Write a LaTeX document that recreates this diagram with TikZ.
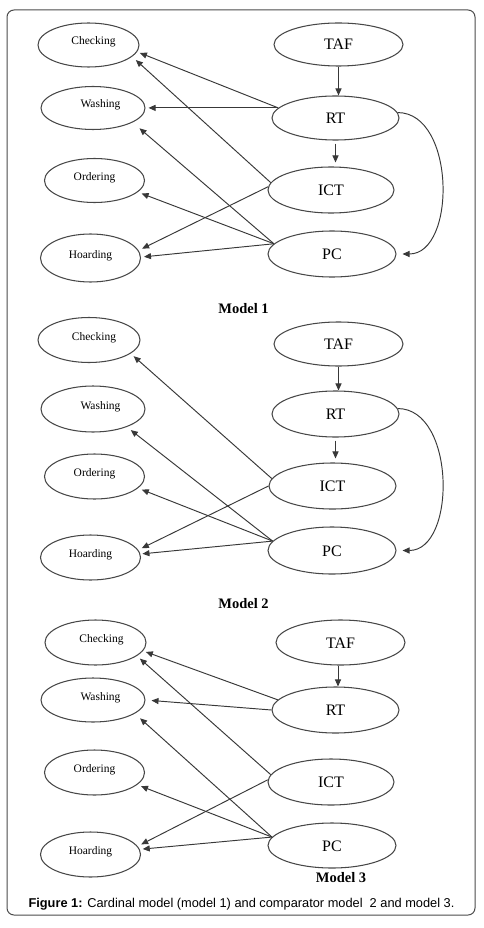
\documentclass[tikz,border=0pt]{standalone}
\usepackage{fontspec}
\setmainfont{Liberation Serif}
\newfontfamily\capfont{Liberation Sans}
\usetikzlibrary{arrows.meta,shapes.geometric}
\begin{document}
\begin{tikzpicture}[x=1pt,y=-1pt,
  ell/.style={ellipse, draw=black!72, line width=1.05pt, inner sep=0pt},
  small/.style={ell, font=\fontsize{11.5}{12}\selectfont, text height=8pt, text depth=8pt},
  big/.style={ell, font=\fontsize{16}{18}\selectfont, text height=11pt, text depth=0pt},
  arr/.style={draw=black!78, line width=0.95pt, -{Triangle[length=7pt,width=6pt]}, shorten >=3pt},
  mlabel/.style={font=\bfseries\fontsize{14.5}{16}\selectfont, inner sep=0pt},
  sz/.style 2 args={minimum width=#1pt, minimum height=#2pt}
]
\useasboundingbox (0,0) rectangle (483,928);
\fill[white] (0,0) rectangle (483,928);
\draw[rounded corners=7pt, black!70, line width=1pt] (7,10) rectangle (475,915);

% ---------------- Model 1
\node[small, sz={101}{44}] (C1) at (88.5,45) {\hspace*{10pt}Checking};
\node[small, sz={104}{43}] (W1) at (93,108) {\hspace*{15pt}Washing};
\node[small, sz={100}{44}] (O1) at (94.5,180.5) {Ordering};
\node[small, sz={100}{48}] (H1) at (90.5,258) {Hoarding};
\node[big, sz={129}{43}] (T1) at (338.5,44.5) {TAF};
\node[big, sz={127}{44}] (R1) at (335.5,118) {RT};
\node[big, sz={126}{46}] (I1) at (331,190) {ICT};
\node[big, sz={128}{46}] (P1) at (332,254) {PC};
\node[mlabel] (M1) at (243.5,308.5) {Model 1};

\draw[arr, shorten >=0pt] (T1.south) -- (T1.south |- R1.north);
\draw[arr, shorten <=3pt, shorten >=4pt] (R1.south) -- (R1.south |- I1.north);
\draw[arr, shorten >=6pt] (R1.5) .. controls +(58,0) and +(60,0) .. (P1.east);
\draw[arr] (R1.170) -- (C1.-8);
\draw[arr] (R1.170) -- (R1.170 -| W1.east);
\draw[arr, shorten >=5pt] (I1.173) -- (C1.-15);
\draw[arr, shorten >=4pt] (I1.177) -- (H1.9);
\draw[arr, shorten >=9pt] (P1.170) -- (W1.-20);
\draw[arr, shorten >=4pt] (P1.170) -- (O1.-15);
\draw[arr] (P1.170) -- (H1.1);

% ---------------- Model 2
\node[small, sz={102}{45}] (C2) at (89,340) {\hspace*{10pt}Checking};
\node[small, sz={104}{46}] (W2) at (93,409) {\hspace*{15pt}Washing};
\node[small, sz={100}{45}] (O2) at (94.5,476.5) {Ordering};
\node[small, sz={100}{45}] (H2) at (90.5,557.5) {Hoarding};
\node[big, sz={129}{44}] (T2) at (338.5,344) {TAF};
\node[big, sz={127}{46}] (R2) at (335.5,414) {RT};
\node[big, sz={127}{46}] (I2) at (332.5,486) {ICT};
\node[big, sz={128}{47}] (P2) at (332,550.5) {PC};
\node[mlabel] (M2) at (243.5,603.5) {Model 2};

\draw[arr, shorten >=0pt] (T2.south) -- (T2.south |- R2.north);
\draw[arr, shorten <=3pt, shorten >=4pt] (R2.south) -- (R2.south |- I2.north);
\draw[arr, shorten >=6pt] (R2.5) .. controls +(58,0) and +(60,0) .. (P2.east);
\draw[arr, shorten >=4pt] (I2.173) -- (C2.-18);
\draw[arr, shorten >=4pt] (I2.180) -- (H2.9);
\draw[arr, shorten >=5pt] (P2.171) -- (W2.-28);
\draw[arr, shorten >=4pt] (P2.171) -- (O2.-15);
\draw[arr, shorten >=2pt] (P2.171) -- (H2.4);

% ---------------- Model 3
\node[small, sz={101}{45}] (C3) at (95.5,642.5) {\hspace*{12pt}Checking};
\node[small, sz={104}{44}] (W3) at (93,700) {\hspace*{15pt}Washing};
\node[small, sz={100}{45}] (O3) at (94.5,772.5) {Ordering};
\node[small, sz={100}{45}] (H3) at (90.5,854.5) {Hoarding};
\node[big, sz={129}{45}] (T3) at (340.5,642.5) {TAF};
\node[big, sz={127}{46}] (R3) at (335.5,710) {RT};
\node[big, sz={126}{46}] (I3) at (331,782) {ICT};
\node[big, sz={128}{45}] (P3) at (332,845.5) {PC};
\node[mlabel] (M3) at (341,877.5) {Model 3};

\draw[arr, shorten >=0pt] ([xshift=2.5pt]T3.south -| R3.north) -- ([xshift=2.5pt]R3.north);
\draw[arr] (R3.170) -- (C3.-10);
\draw[arr, shorten >=6pt] (R3.west) -- (W3.east);
\draw[arr, shorten >=4pt] (I3.173) -- (C3.-18);
\draw[arr, shorten >=4pt] (I3.178) -- (H3.10);
\draw[arr, shorten >=7pt] (P3.172) -- (W3.-18);
\draw[arr, shorten >=4pt] (P3.172) -- (O3.-16);
\draw[arr] (P3.172) -- (H3.6);

% caption
\node[font=\capfont\fontsize{12.8}{14}\selectfont, inner sep=0pt] (cap) at (241.5,904)
  {\textbf{Figure 1:} Cardinal model (model 1) and comparator model\ \ 2 and model 3.};
\end{tikzpicture}
\end{document}
